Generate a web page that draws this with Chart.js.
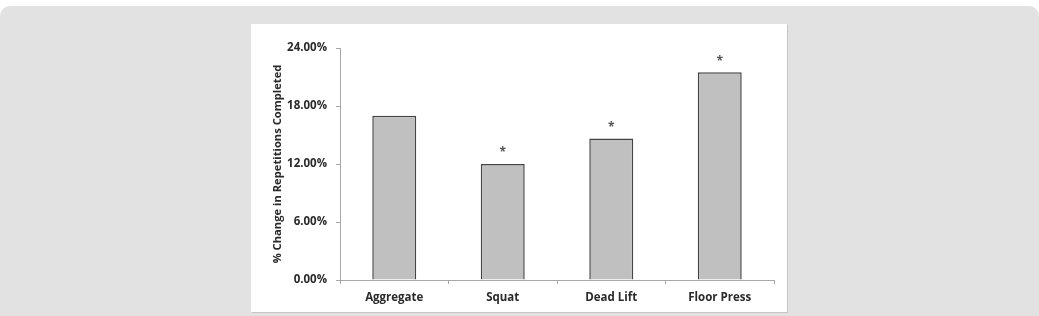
<!DOCTYPE html>
<html>
<head>
<meta charset="utf-8">
<script src="https://cdn.jsdelivr.net/npm/chart.js@4.4.0/dist/chart.umd.min.js"></script>
<style>
  html, body { margin: 0; padding: 0; background: #ffffff; width: 1039px; height: 316px; overflow: hidden; }
  #bg { position: absolute; left: 0; top: 6px; width: 1039px; height: 320px; background: #e2e2e2; border-radius: 10px; }
  #panel { position: absolute; left: 251px; top: 24px; width: 536px; height: 288px; background: #ffffff;
           box-shadow: 1px 1px 0 #c4c4c4; }
  #c { position: absolute; left: 0; top: 0; }
</style>
</head>
<body>
<div id="bg"></div>
<div id="panel"><canvas id="c" width="536" height="288"></canvas></div>
<script>
const categories = ["Aggregate", "Squat", "Dead Lift", "Floor Press"];
const changeValues = [17.0, 12.0, 14.65, 21.5];
const significant = [false, true, true, true];
const yTicks = [0, 6, 12, 18, 24];

const FONT = "'Open Sans', 'Liberation Sans', sans-serif";

const asteriskPlugin = {
  id: 'asterisks',
  afterDatasetsDraw(chart) {
    const ctx = chart.ctx;
    const meta = chart.getDatasetMeta(0);
    ctx.save();
    ctx.fillStyle = '#555555';
    ctx.font = 'bold 12px ' + FONT;
    ctx.textAlign = 'center';
    ctx.textBaseline = 'middle';
    meta.data.forEach((bar, i) => {
      if (significant[i]) ctx.fillText('*', bar.x, bar.y - 11);
    });
    ctx.restore();
  }
};

new Chart(document.getElementById('c'), {
  type: 'bar',
  data: {
    labels: categories,
    datasets: [{
      data: changeValues,
      backgroundColor: '#c0c0c0',
      borderColor: '#444444',
      borderWidth: 1.5,
      categoryPercentage: 1.0,
      barPercentage: 0.405
    }]
  },
  options: {
    responsive: false,
    animation: false,
    devicePixelRatio: 1,
    layout: { padding: { top: 24, right: 13, left: 20, bottom: 0 } },
    plugins: { legend: { display: false }, tooltip: { enabled: false } },
    scales: {
      x: {
        offset: true,
        grid: { display: true, offset: true, drawOnChartArea: false, tickLength: 4, color: '#a8a8a8' },
        border: { display: true, color: '#a8a8a8', width: 1 },
        ticks: { color: '#2a2a2a', font: { family: FONT, size: 11.5, weight: 'bold' }, padding: 7 },
        afterFit(scale) { scale.height = 32; }
      },
      y: {
        min: 0, max: 24,
        afterBuildTicks(scale) { scale.ticks = yTicks.map(v => ({ value: v })); },
        grid: { display: true, drawOnChartArea: false, tickLength: 4, color: '#a8a8a8' },
        border: { display: true, color: '#a8a8a8', width: 1 },
        ticks: {
          color: '#2a2a2a', font: { family: FONT, size: 11.5, weight: 'bold' }, padding: 9,
          callback: v => v.toFixed(2) + '%'
        },
        title: {
          display: true, text: '% Change in Repetitions Completed', color: '#2a2a2a',
          font: { family: FONT, size: 11.2, weight: 'bold' }, padding: { top: 0, bottom: 4 }
        },
        afterFit(scale) { scale.width = 69; }
      }
    }
  },
  plugins: [asteriskPlugin]
});
</script>
</body>
</html>
